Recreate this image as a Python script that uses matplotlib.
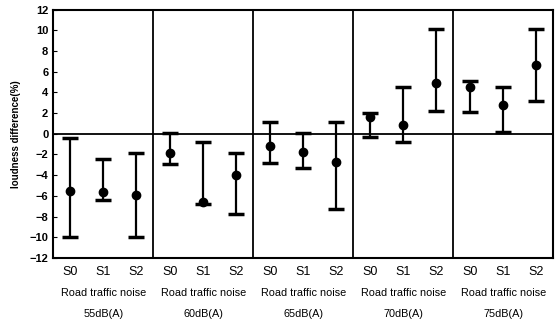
import numpy as np
import matplotlib.pyplot as plt
import matplotlib.transforms as mtransforms

plt.rcParams['font.family'] = ['Liberation Sans', 'DejaVu Sans']

groups = ['55dB(A)', '60dB(A)', '65dB(A)', '70dB(A)', '75dB(A)']
conds = ['S0', 'S1', 'S2']

# mean, upper, lower per group (rows) and condition (cols)
mean = [[-5.5, -5.6, -5.9],
        [-1.9, -6.6, -4.0],
        [-1.2, -1.8, -2.7],
        [1.6, 0.8, 4.9],
        [4.5, 2.8, 6.6]]
upper = [[-0.4, -2.4, -1.9],
         [0.1, -0.8, -1.9],
         [1.1, 0.1, 1.1],
         [2.0, 4.5, 10.1],
         [5.1, 4.5, 10.1]]
lower = [[-10.0, -6.4, -10.0],
         [-2.9, -6.8, -7.8],
         [-2.8, -3.3, -7.3],
         [-0.3, -0.8, 2.2],
         [2.1, 0.2, 3.2]]

mean = np.array(mean)
upper = np.array(upper)
lower = np.array(lower)
offs = np.array([0.17, 0.5, 0.83])

fig = plt.figure(figsize=(5.6, 3.2), dpi=100)
ax = fig.add_axes([0.095, 0.194, 0.893, 0.776])

xs = []
for g in range(len(groups)):
    x = g + offs
    xs.extend(x)
    yerr = [mean[g] - lower[g], upper[g] - mean[g]]
    ax.errorbar(x, mean[g], yerr=yerr, fmt='o', color='black', ms=6,
                elinewidth=1.6, capsize=6, capthick=2.5)

for g in range(1, len(groups)):
    ax.axvline(g, color='black', lw=1.3)
ax.axhline(0, color='black', lw=1.3)

ax.set_xlim(0, len(groups))
ax.set_ylim(-12, 12)
ax.set_yticks(np.arange(-12, 13, 2))
ax.set_xticks(xs)
ax.set_xticklabels(conds * len(groups))
ax.tick_params(axis='x', length=0, pad=6, labelsize=9)
ax.tick_params(axis='y', direction='in', length=3, labelsize=8)
for lab in ax.get_yticklabels():
    lab.set_fontweight('bold')
for s in ax.spines.values():
    s.set_linewidth(1.5)

trans = mtransforms.blended_transform_factory(ax.transData, fig.transFigure)
for g, name in enumerate(groups):
    ax.text(g + 0.5, 0.085, 'Road traffic noise', transform=trans,
            ha='center', va='center', fontsize=7.8)
    ax.text(g + 0.5, 0.02, name, transform=trans,
            ha='center', va='center', fontsize=7.8)

ax.set_ylabel('loudness difference(%)', fontsize=7, fontweight='bold', labelpad=6)

fig.savefig('out.png', dpi=100)
